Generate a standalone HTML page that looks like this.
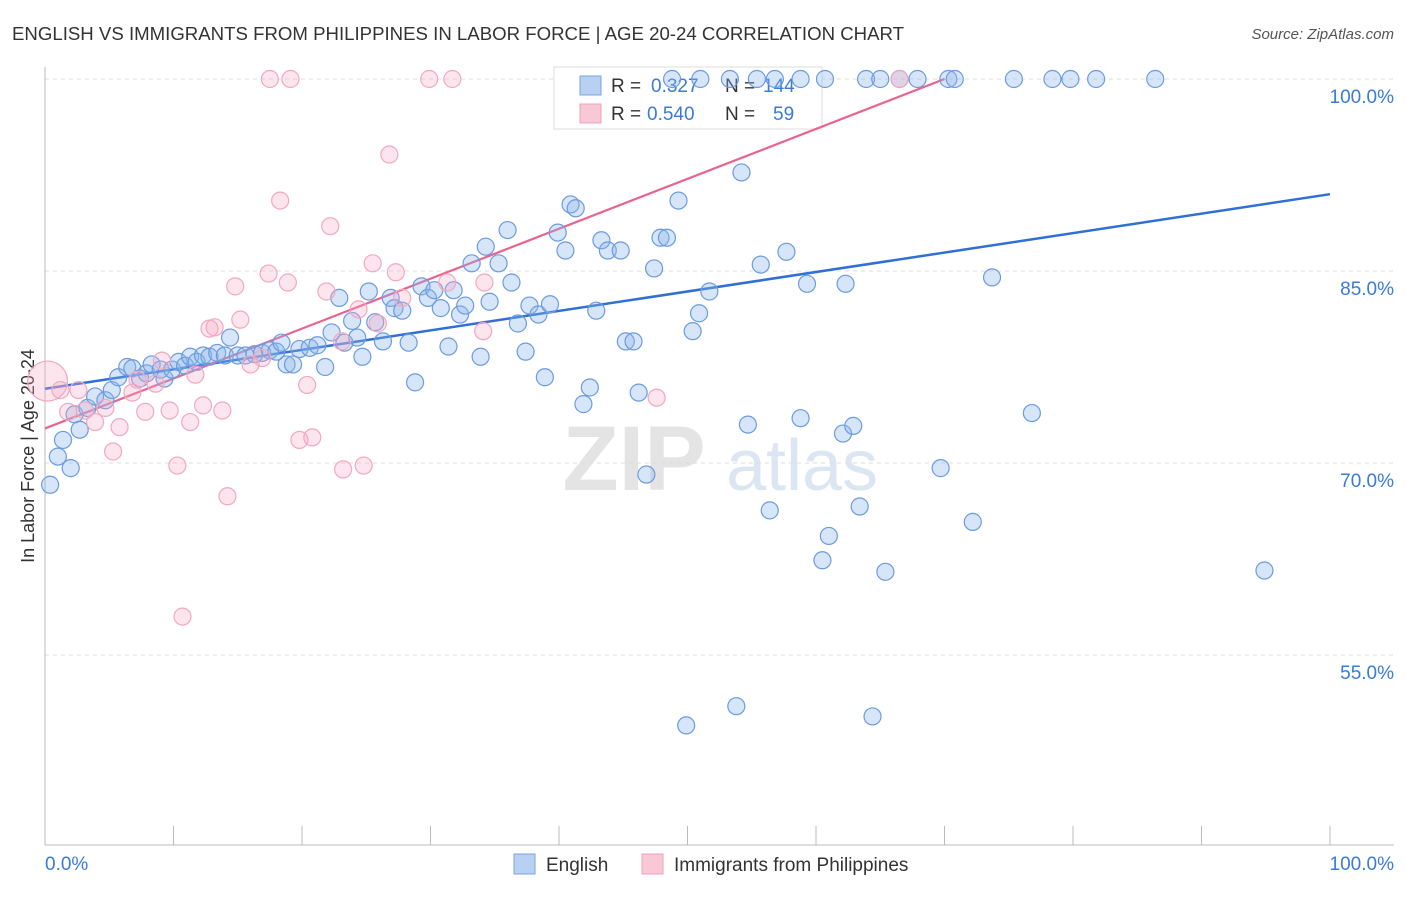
<!DOCTYPE html>
<html><head><meta charset="utf-8"><style>
body{margin:0;background:#fff;font-family:"Liberation Sans",sans-serif;}
svg text{font-family:"Liberation Sans",sans-serif;}
</style></head><body>
<svg id="chart" width="1406" height="892" viewBox="0 0 1406 892">
<text x="12" y="40" font-size="18" fill="#333" textLength="892" lengthAdjust="spacingAndGlyphs">ENGLISH VS IMMIGRANTS FROM PHILIPPINES IN LABOR FORCE | AGE 20-24 CORRELATION CHART</text>
<text x="1394" y="39" font-size="15" fill="#555" font-style="italic" text-anchor="end">Source: ZipAtlas.com</text>
<text x="34" y="456" font-size="18" fill="#333" text-anchor="middle" transform="rotate(-90 34 456)">In Labor Force | Age 20-24</text>
<g><text x="634" y="490" font-size="92" fill="#e4e4e4" text-anchor="middle" font-family="Liberation Serif" font-weight="bold">ZIP</text><text x="802" y="490" font-size="72" fill="#dce6f3" text-anchor="middle">atlas</text></g>
<g id="grid"></g><g id="axes"></g>
<g>
<rect x="554" y="67" width="268" height="62" fill="#fff" stroke="#ddd"/>
<rect x="580" y="76" width="21" height="19" fill="#b8d0f2" stroke="#7aa5e0"/>
<text y="92" font-size="19" fill="#333"><tspan x="611">R =</tspan><tspan x="651" fill="#3a7bd5">0.327</tspan><tspan x="725">N =</tspan><tspan x="763" fill="#3a7bd5">144</tspan></text>
<rect x="580" y="104" width="21" height="19" fill="#f9c8d6" stroke="#f0a0b8"/>
<text y="120" font-size="19" fill="#333"><tspan x="611">R =</tspan><tspan x="647" fill="#3a7bd5">0.540</tspan><tspan x="725">N =</tspan><tspan x="773" fill="#3a7bd5">59</tspan></text>
</g>
<g id="lines"></g><g id="points"></g>
<g>
<rect x="514" y="854" width="21" height="20" fill="#b8d0f2" stroke="#7aa5e0"/>
<text x="546" y="871" font-size="19" fill="#333">English</text>
<rect x="642" y="854" width="21" height="20" fill="#f9c8d6" stroke="#f0a0b8"/>
<text x="674" y="871" font-size="19" fill="#333">Immigrants from Philippines</text>
</g>
</svg>
<script>
const yTicks=[100,85,70,55];
const xTickLabels=["0.0%","100.0%"];
const blueX=[0.4,1.0,1.4,2.0,2.3,2.7,3.3,3.9,4.7,5.2,5.7,6.4,6.8,7.4,7.9,8.3,9.0,9.3,9.9,10.4,10.9,11.3,11.8,12.3,12.8,13.4,14.0,14.4,15.0,15.6,16.3,16.9,17.5,18.0,18.4,18.8,19.3,19.8,20.6,21.2,21.8,22.3,22.9,23.3,23.9,24.3,24.7,25.2,25.7,26.3,26.9,27.2,27.8,28.3,28.8,29.3,29.8,30.3,30.8,31.4,31.8,32.3,32.7,33.2,33.9,34.3,34.6,35.3,36.0,36.3,36.8,37.4,37.7,38.4,38.9,39.3,39.9,40.5,40.9,41.3,41.9,42.4,42.9,43.3,43.8,44.8,45.2,45.8,46.2,46.8,47.4,47.9,48.4,49.3,49.9,50.4,50.9,51.7,53.8,54.2,54.7,55.7,56.4,57.7,58.8,59.3,60.5,61.0,62.1,62.3,62.9,63.4,64.4,65.4,69.7,72.2,73.7,76.8,94.9,48.8,51.0,53.3,55.4,56.8,58.8,60.7,63.9,65.0,66.5,67.9,70.3,70.8,75.4,78.4,79.8,81.8,86.4];
const blueY=[68.3,70.5,71.8,69.6,73.8,72.6,74.3,75.2,74.9,75.7,76.7,77.5,77.4,76.6,77.0,77.7,77.3,76.6,77.3,77.9,77.6,78.3,77.9,78.4,78.3,78.6,78.4,79.8,78.4,78.4,78.5,78.6,78.8,78.7,79.4,77.7,77.7,78.9,79.0,79.2,77.5,80.2,82.9,79.4,81.1,79.8,78.3,83.4,81.0,79.5,82.9,82.1,81.9,79.4,76.3,83.8,82.9,83.5,82.1,79.1,83.5,81.6,82.3,85.6,78.3,86.9,82.6,85.6,88.2,84.1,80.9,78.7,82.3,81.6,76.7,82.4,88.0,86.6,90.2,89.9,74.6,75.9,81.9,87.4,86.6,86.6,79.5,79.5,75.5,69.1,85.2,87.6,87.6,90.5,49.5,80.3,81.7,83.4,51.0,92.7,73.0,85.5,66.3,86.5,73.5,84.0,62.4,64.3,72.3,84.0,72.9,66.6,50.2,61.5,69.6,65.4,84.5,73.9,61.6,100,100,100,100,100,100,100,100,100,100,100,100,100,100,100,100,100,100];
const pinkX=[0.2,1.2,1.8,2.6,3.1,3.9,4.7,5.3,5.8,6.8,7.2,7.8,8.6,9.1,9.7,10.3,10.7,11.3,11.7,12.3,12.8,13.2,13.8,14.2,14.8,15.2,16.0,16.9,17.4,17.5,18.3,18.9,19.1,19.8,20.4,20.8,21.9,22.2,23.1,23.2,24.4,24.8,25.5,25.9,26.8,27.3,27.8,29.9,31.3,31.7,34.1,34.2,47.6,66.5];
const pinkY=[76.4,75.7,74.0,75.7,74.1,73.2,74.3,70.9,72.8,75.5,76.5,74.0,76.2,78.0,74.1,69.8,58.0,73.2,76.9,74.5,80.5,80.6,74.1,67.4,83.8,81.2,77.7,78.2,84.8,100,90.5,84.1,100,71.8,76.1,72.0,83.4,88.5,79.5,69.5,82.0,69.8,85.6,80.9,94.1,84.9,82.9,100,84.1,100,80.3,84.1,75.1,100];
const blueLine=[75.8,91.0];
const pinkLine=[72.7,100,70];

const NS="http://www.w3.org/2000/svg";
const X0=45,X1=1330,Y100=79,PX=12.8,YB=845;
function sx(v){return X0+(X1-X0)*v/100;}
function sy(v){return Y100+(100-v)*PX;}
function mk(t,a,p){const e=document.createElementNS(NS,t);for(const k in a)e.setAttribute(k,a[k]);p.appendChild(e);return e;}
const grid=document.getElementById('grid'),axes=document.getElementById('axes');
yTicks.forEach(v=>{
 const l=mk('line',{x1:X0,x2:1394,y1:sy(v),y2:sy(v),stroke:'#ddd','stroke-dasharray':'4,4'},grid);
 
 
 const t=mk('text',{x:1394,y:sy(v)+24,'font-size':19,fill:'#3a7bd5','text-anchor':'end'},axes);
 t.textContent=v.toFixed(1)+'%';
 
 
});
const ax=mk('line',{x1:X0,x2:X0,y1:67,y2:YB,stroke:'#bbb'},axes);


const bx=mk('line',{x1:X0,x2:1394,y1:YB,y2:YB,stroke:'#bbb'},axes);


for(let i=0;i<=10;i++){const t=mk('line',{x1:sx(i*10),x2:sx(i*10),y1:YB,y2:826,stroke:'#bbb'},axes);
 
 }
[[0,'start',45],[100,'end',1394]].forEach((d,i)=>{const t=mk('text',{x:d[2],y:870,'font-size':19,fill:'#3a7bd5','text-anchor':d[1]},axes);t.textContent=xTickLabels[i];
 
 });
const pts=document.getElementById('points');
blueX.forEach((x,i)=>{const c=mk('circle',{cx:sx(x),cy:sy(blueY[i]),r:8.5,fill:'rgba(140,180,235,0.35)',stroke:'#6b9be0','stroke-width':1.2},pts);
 
 });
pinkX.forEach((x,i)=>{const c=mk('circle',{cx:sx(x),cy:sy(pinkY[i]),r:i==0?20:8.5,fill:'rgba(245,170,195,0.3)',stroke:'#f2a8bf','stroke-width':1.2},pts);
 
 });
const lines=document.getElementById('lines');
const bl=mk('line',{x1:sx(0),y1:sy(blueLine[0]),x2:sx(100),y2:sy(blueLine[1]),stroke:'#2f6fd6','stroke-width':2.5},lines);


const pl=mk('line',{x1:sx(0),y1:sy(pinkLine[0]),x2:sx(pinkLine[2]),y2:sy(pinkLine[1]),stroke:'#e8648f','stroke-width':2.2},lines);


</script>
</body></html>
